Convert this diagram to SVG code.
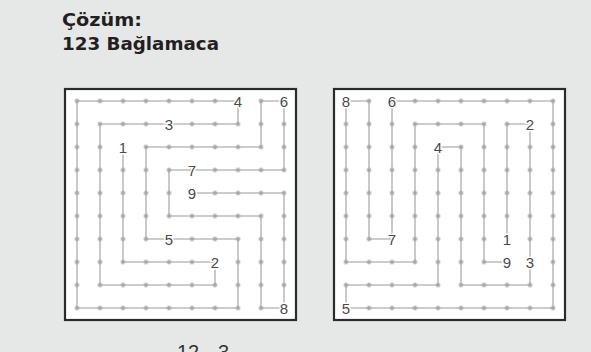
<svg xmlns="http://www.w3.org/2000/svg" width="591" height="352" viewBox="0 0 591 352">
  <style>
    .title { font-family: "DejaVu Sans", "Liberation Sans", sans-serif; font-weight: bold; font-size: 18px; fill: #231f20; }
    .frame { fill: #ffffff; stroke: #2b2b2b; stroke-width: 2.2; }
    .path { fill: none; stroke: #bcbcbc; stroke-width: 1.6; stroke-linejoin: miter; }
    .lbl { font-family: "Liberation Sans", Arial, sans-serif; font-size: 15px; fill: #4a4a4a; text-anchor: middle; stroke: #ffffff; stroke-width: 3; paint-order: stroke; }
    .foot { font-family: "Liberation Sans", Arial, sans-serif; font-size: 20px; fill: #333333; }
  </style>
  <defs>
    <pattern id="dotsL" x="65.5" y="89.5" width="23" height="23" patternUnits="userSpaceOnUse">
      <circle cx="11.5" cy="11.5" r="2.2" fill="#a8a8a8"/>
    </pattern>
    <pattern id="dotsR" x="334.5" y="89.5" width="23" height="23" patternUnits="userSpaceOnUse">
      <circle cx="11.5" cy="11.5" r="2.2" fill="#a8a8a8"/>
    </pattern>
  </defs>

  <rect x="0" y="0" width="591" height="352" fill="#e5e8e7"/>

  <text class="title" x="62" y="26" textLength="80" lengthAdjust="spacingAndGlyphs">Çözüm:</text>
  <text class="title" x="62" y="50" textLength="157" lengthAdjust="spacingAndGlyphs">123 Bağlamaca</text>

  <!-- Left puzzle -->
  <g id="grid-left">
    <rect class="frame" x="65" y="89" width="231" height="231"/>
    <g id="path-left">
      <polyline class="path" points="123,147 123,262 215,262 215,285 100,285 100,124 238,124 238,101 77,101 77,308 238,308 238,239 146,239 146,147 261,147 261,101 284,101 284,170 169,170 169,216 261,216 261,308 284,308 284,193 192,193"/>
    </g>
    <rect x="65.5" y="89.5" width="230" height="230" fill="url(#dotsL)"/>
    <g id="labels-left">
      <text class="lbl" x="123" y="152.5">1</text>
      <text class="lbl" x="215" y="267.5">2</text>
      <text class="lbl" x="169" y="129.5">3</text>
      <text class="lbl" x="238" y="106.5">4</text>
      <text class="lbl" x="169" y="244.5">5</text>
      <text class="lbl" x="284" y="106.5">6</text>
      <text class="lbl" x="192" y="175.5">7</text>
      <text class="lbl" x="284" y="313.5">8</text>
      <text class="lbl" x="192" y="198.5">9</text>
    </g>
  </g>

  <!-- Right puzzle -->
  <g id="grid-right">
    <rect class="frame" x="334" y="89" width="231" height="231"/>
    <g id="path-right">
      <polyline class="path" points="507,239 507,124 530,124 530,285 461,285 461,147 438,147 438,285 346,285 346,308 553,308 553,101 392,101 392,239 369,239 369,101 346,101 346,262 415,262 415,124 484,124 484,262 507,262"/>
    </g>
    <rect x="334.5" y="89.5" width="230" height="230" fill="url(#dotsR)"/>
    <g id="labels-right">
      <text class="lbl" x="507" y="244.5">1</text>
      <text class="lbl" x="530" y="129.5">2</text>
      <text class="lbl" x="530" y="267.5">3</text>
      <text class="lbl" x="438" y="152.5">4</text>
      <text class="lbl" x="346" y="313.5">5</text>
      <text class="lbl" x="392" y="106.5">6</text>
      <text class="lbl" x="392" y="244.5">7</text>
      <text class="lbl" x="346" y="106.5">8</text>
      <text class="lbl" x="507" y="267.5">9</text>
    </g>
  </g>

  <text class="foot" x="177" y="358.5">12</text>
  <text class="foot" x="218" y="358.5">3</text>
</svg>
